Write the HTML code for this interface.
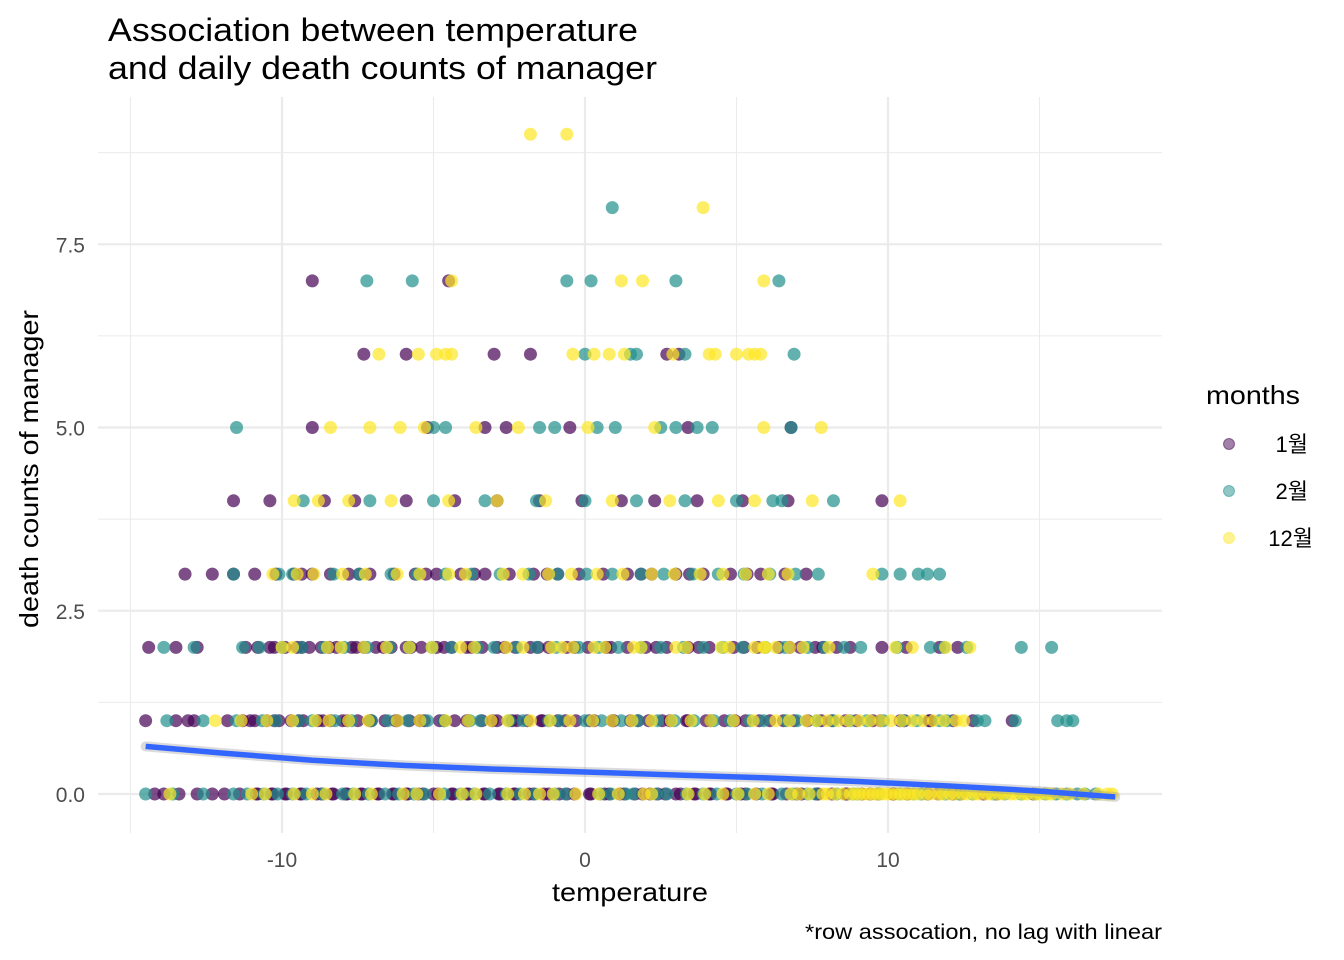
<!DOCTYPE html>
<html><head><meta charset="utf-8"><style>
body{margin:0;background:#fff;}
svg{display:block;font-family:"Liberation Sans","Noto Sans CJK KR",sans-serif;}
</style></head><body>
<svg id="chart" width="1344" height="960" xmlns="http://www.w3.org/2000/svg">
<text x="108" y="41" font-size="32" fill="#000" textLength="530" lengthAdjust="spacingAndGlyphs">Association between temperature</text>
<text x="108" y="79" font-size="32" fill="#000" textLength="549" lengthAdjust="spacingAndGlyphs">and daily death counts of manager</text>
<g id="grid"></g>
<g id="pts"></g>
<g id="smooth"></g>
<g id="ticks"></g>
<text x="552" y="901" font-size="26" fill="#000" textLength="156" lengthAdjust="spacingAndGlyphs">temperature</text>
<text transform="translate(38,628) rotate(-90)" font-size="26" fill="#000" textLength="318" lengthAdjust="spacingAndGlyphs">death counts of manager</text>
<text x="805" y="939" font-size="21" fill="#000" textLength="357" lengthAdjust="spacingAndGlyphs">*row assocation, no lag with linear</text>
<g>
<text x="1206" y="404" font-size="26" fill="#000" textLength="94" lengthAdjust="spacingAndGlyphs">months</text>
<g><circle cx="1229" cy="444" r="5.5" fill="#440154" fill-opacity="0.5" stroke="#440154" stroke-opacity="0.5"/><text x="1308" y="452" font-size="22" text-anchor="end">1월</text></g>
<g><circle cx="1229" cy="491" r="5.5" fill="#21908C" fill-opacity="0.5" stroke="#21908C" stroke-opacity="0.5"/><text x="1308" y="499" font-size="22" text-anchor="end">2월</text></g>
<g><circle cx="1229" cy="538" r="5.5" fill="#FDE725" fill-opacity="0.5" stroke="#FDE725" stroke-opacity="0.5"/><text x="1313" y="546" font-size="22" text-anchor="end">12월</text></g>
</g>
</svg>
<script>
const xTicks=[-10,0,10];
const xMinor=[-15,-5,5,15];
const yTicks=[0,2.5,5,7.5];
const yMinor=[1.25,3.75,6.25,8.75];
const counts=[0,1,2,3,4,5,6,7,8,9];
const janTemps=[
[-14.2,-13.9,-13.4,-12.8,-12.3,-11.9,-11.4,-10.8,-10.3,-9.9,-9.4,-8.7,-8.3,-7.9,-7.4,-6.8,-6.3,-5.9,-5.5,-5.0,-4.4,-3.9,-3.3,-2.8,-2.3,-1.7,-1.2,-0.6,0.2,0.8,1.3,1.9,2.4,3.0,3.6,4.1,4.7,5.3,6.2,7.0,7.7,8.6,9.4,10.2,11.3,12.4,13.6,14.8,
 -10.85,-10.35,-9.85,-9.35,-8.85,-8.35,-7.85,-7.35,-6.85,-6.35,-5.85,-5.35,-4.85,-4.35,-3.85,-3.35,-2.85,-2.35,-1.85,-1.35,-0.85,-0.35,0.15,0.65,1.15,1.65,2.15,2.65,3.15,3.65,4.15,4.65,5.15,5.65,6.15,6.65,7.15,7.65,8.15,8.65,9.15,9.65,10.15,10.65,11.65,12.15,13.15],
[-14.5,-13.5,-13.1,-12.9,-11.8,-11.3,-10.9,-10.5,-10.1,-9.7,-9.3,-8.8,-8.4,-8.0,-7.5,-7.1,-6.6,-6.2,-5.8,-5.3,-4.8,-4.3,-3.9,-3.4,-2.9,-2.4,-1.9,-1.4,-0.9,-0.3,0.3,0.9,1.5,2.1,2.8,3.4,4.0,4.6,5.3,6.1,6.9,7.8,8.6,9.5,10.4,11.4,12.8,14.1,
 -11.05,-10.25,-9.45,-8.65,-7.85,-7.05,-6.25,-5.45,-4.65,-3.85,-3.05,-2.25,-1.45,-0.65,0.15,0.95,1.75,2.55,3.35,4.15,4.95,5.75,6.55,7.35,8.15,8.95,9.75,10.55,11.35,12.15],
[-14.4,-13.5,-12.8,-11.2,-10.8,-10.4,-9.9,-9.5,-9.1,-8.7,-8.2,-7.7,-7.3,-6.9,-6.4,-5.9,-5.4,-4.9,-4.4,-3.9,-3.4,-2.9,-2.3,-1.8,-1.2,-0.6,0.1,0.7,1.4,2.0,2.7,3.4,4.1,4.9,5.7,6.4,7.1,7.6,8.3,9.8,10.6,11.7,12.3,
 -10.25,-9.35,-8.45,-7.55,-6.65,-5.75,-4.65,-3.75,-2.65,-1.55,-0.35,0.85,2.35,3.75,5.25,6.75,7.85,8.75],
[-13.2,-12.3,-11.6,-10.9,-10.2,-9.6,-9.0,-8.4,-7.8,-7.1,-6.3,-5.6,-4.9,-4.1,-3.3,-2.5,-1.7,-0.9,-0.2,0.6,1.4,2.2,3.0,3.9,4.8,5.8,6.6,7.3,
 -9.35,-7.45,-5.25,-3.65,-1.25,1.85,3.45,5.35],
[-11.6,-10.4,-8.6,-7.6,-5.9,-4.3,-2.9,-1.5,-0.1,1.2,2.3,3.7,5.2,6.7,9.8],
[-9.0,-5.2,-3.3,-2.6,-0.5,3.4,6.8],
[-7.3,-5.9,-3.0,-1.8,2.7,3.1],
[-9.0,-4.5],[],[]];
const febTemps=[
[-14.5,-13.6,-12.6,-11.6,-10.6,-9.2,-8.0,-6.6,-5.3,-4.1,-2.6,-1.0,0.5,1.6,2.7,3.9,5.0,6.5,7.6,8.3,9.0,9.7,10.4,11.1,11.9,12.8,13.5,14.4,15.2,15.9,16.5,
 -11.15,-10.15,-9.65,-8.65,-7.65,-7.15,-6.15,-5.65,-4.65,-3.65,-3.15,-2.15,-1.65,-0.65,0.85,1.35,2.35,3.35,4.35,5.35,5.85,6.85,7.35,8.85,10.85,12.35,13.85,14.85,15.55,16.25,16.85],
[-13.8,-12.6,-11.5,-10.2,-9.0,-7.7,-6.5,-5.2,-3.8,-2.5,-1.2,0.0,1.2,2.4,3.6,4.8,5.9,7.0,8.2,9.3,10.5,11.7,13.2,14.2,15.9,16.1,
 -10.65,-9.45,-8.25,-7.05,-5.85,-4.65,-3.45,-2.05,-0.85,0.55,1.75,2.95,4.25,5.45,6.65,7.65,8.75,9.85,10.95,11.95,12.95,15.6],
[-13.9,-12.9,-11.3,-10.0,-8.6,-7.2,-5.8,-4.4,-3.0,-1.6,-0.2,1.1,2.5,3.9,5.2,6.6,7.9,9.1,10.3,11.4,12.6,14.4,15.4,
 -10.75,-9.35,-7.95,-6.45,-5.05,-3.55,-2.25,-0.95,0.45,1.85,3.25,4.55,5.95,7.35,8.55,11.85],
[-11.6,-10.1,-8.3,-6.4,-4.6,-2.8,-0.9,0.9,2.6,4.4,6.1,7.7,9.8,10.4,11.0,11.3,11.7,
 -9.65,-7.45,-5.55,-3.75,-1.85,0.05,1.85,3.55,5.25,6.95],
[-9.3,-7.1,-5.0,-3.3,-1.6,0.0,1.7,3.3,5.0,6.2,6.5,8.2],
[-11.5,-5.0,-4.6,-1.5,-1.0,0.4,1.0,2.5,3.0,3.7,4.2,6.8],
[0.0,1.5,1.7,3.3,6.9],
[-7.2,-5.7,-0.6,0.2,3.0,6.4],
[0.9],[]];
const decTemps=[
[-13.7,-11.0,-9.6,-9.0,-7.6,-6.0,-4.8,-3.6,-2.0,-1.5,-0.3,1.1,2.2,3.4,5.6,6.8,7.4,8.0,8.5,8.9,9.2,9.5,9.8,10.1,10.4,10.7,11.0,11.4,11.8,12.2,12.6,13.0,13.4,13.8,14.2,14.6,15.0,15.4,16.0,17.4,
 -10.55,-8.55,-7.05,-5.55,-4.05,-2.55,-1.05,0.45,1.95,3.95,4.55,5.05,6.05,7.05,7.85,8.25,8.75,9.05,9.35,9.65,9.95,10.25,10.55,10.85,11.25,11.65,12.05,12.45,12.85,13.25,13.65,14.05,14.45,14.85,15.25,15.75,16.45,16.95,17.25],
[-12.2,-10.5,-8.9,-7.8,-6.2,-4.6,-3.1,-1.8,-0.5,0.9,2.2,3.5,4.9,6.3,7.3,8.0,8.7,9.4,10.1,10.8,11.5,12.5,
 -11.35,-9.65,-8.45,-7.15,-5.45,-3.85,-2.55,-1.15,0.25,1.55,2.85,4.15,5.55,6.75,7.65,8.35,9.05,9.75,10.45,11.15,11.85,12.25],
[-10.0,-8.5,-7.3,-5.8,-4.1,-2.6,-1.1,-0.4,0.3,1.6,3.0,4.5,5.6,5.9,6.3,7.2,10.8,11.9,12.7,
 -9.65,-8.05,-6.55,-5.05,-3.65,-2.05,-0.75,0.65,1.85,3.35,4.75,5.95,6.75,8.05,10.25],
[-10.3,-9.5,-8.0,-6.2,-4.5,-2.7,-1.2,0.4,2.2,3.8,5.3,6.7,9.5,
 -8.95,-7.25,-5.45,-3.95,-2.05,-0.45,1.25,2.95,4.55,6.05],
[-9.6,-8.8,-7.8,-6.4,-4.5,-2.9,-1.3,0.9,2.8,4.4,5.6,7.5,10.4],
[-8.4,-7.1,-6.1,-5.3,-3.6,-2.2,0.1,2.3,5.9,7.8],
[-6.8,-5.5,-4.9,-4.6,-4.4,-0.4,0.3,0.8,1.3,2.9,4.1,4.3,5.0,5.4,5.6,5.8],
[-4.4,1.2,1.9,5.9],
[3.9],[-1.8,-0.6]];
const fitX=[-14.5,-12,-9,-6,-3,0,3,6,9,12,15,17.5];
const fitY=[0.65,0.56,0.46,0.39,0.34,0.30,0.26,0.22,0.17,0.11,0.04,-0.04];
const xs=v=>585+v*30.3, ys=v=>794-v*73.3;
const NS='http://www.w3.org/2000/svg';
function mk(t,a,p){const e=document.createElementNS(NS,t);for(const k in a)e.setAttribute(k,a[k]);p.appendChild(e);return e;}
const grid=document.getElementById('grid');
xMinor.forEach(v=>{const l=mk('line',{x1:xs(v),x2:xs(v),y1:97,y2:833,stroke:'#ebebeb','stroke-width':1.1},grid);

});
yMinor.forEach(v=>{const l=mk('line',{x1:98,x2:1162,y1:ys(v),y2:ys(v),stroke:'#ebebeb','stroke-width':1.1},grid);

});
xTicks.forEach(v=>{const l=mk('line',{x1:xs(v),x2:xs(v),y1:97,y2:833,stroke:'#ebebeb','stroke-width':2.2},grid);

});
yTicks.forEach(v=>{const l=mk('line',{x1:98,x2:1162,y1:ys(v),y2:ys(v),stroke:'#ebebeb','stroke-width':2.2},grid);

});
const tk=document.getElementById('ticks');
xTicks.forEach(v=>{const t=mk('text',{x:xs(v),y:867,'font-size':21,'text-anchor':'middle',fill:'#4d4d4d'},tk);t.textContent=v;

});
yTicks.forEach(v=>{const t=mk('text',{x:85,y:ys(v)+8,'font-size':21,'text-anchor':'end',fill:'#4d4d4d'},tk);t.textContent=v.toFixed(1);

});
const pts=document.getElementById('pts');
[[janTemps,'#440154','jan'],[febTemps,'#21908C','feb'],[decTemps,'#FDE725','dec']].forEach(([arr,c,n])=>{
arr.forEach((row,i)=>row.forEach(t=>{const p=mk('circle',{cx:xs(t),cy:ys(counts[i]),r:6.5,fill:c,'fill-opacity':0.7},pts);

}));});
const sm=document.getElementById('smooth');
const d=fitX.map((x,i)=>(i?'L':'M')+xs(x)+','+ys(fitY[i])).join(' ');
const band=mk('path',{d:d,stroke:'#999',fill:'none','stroke-width':10,'stroke-opacity':0.35,'stroke-linecap':'round'},sm);


const ln=mk('path',{d:d,stroke:'#3366FF',fill:'none','stroke-width':5.5,'stroke-linejoin':'round'},sm);


</script>
</body></html>
